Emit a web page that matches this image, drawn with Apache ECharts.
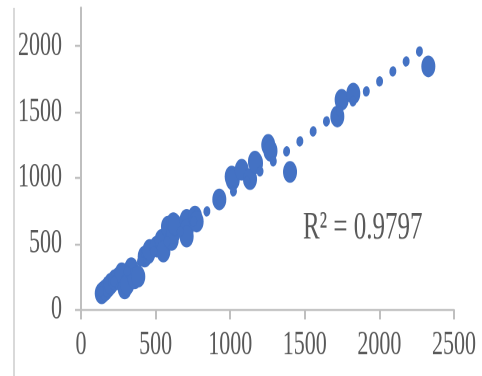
<!DOCTYPE html>
<html>
<head>
<meta charset="utf-8">
<script src="https://cdn.jsdelivr.net/npm/echarts@6/dist/echarts.min.js"></script>
<style>
	html,body{margin:0;padding:0;background:#fff;overflow:hidden;}
	#wrap{width:482px;height:376px;overflow:hidden;}
	/* the source picture is stretched vertically, so the chart is drawn flat and stretched */
	#chart{width:482px;height:242px;transform:scaleY(1.5537);transform-origin:0 0;}
</style>
</head>
<body>
<div id="wrap"><div id="chart"></div></div>
<script>
	// data
	const xValues=[139,150,165,183,200,228,250,273,293,310,337,340,360,384,
		427,451,460,507,541,552,583,608,619,619,630,708,708,708,764,775,
		927,1010,1017,1077,1133,1166,1173,1255,1270,1401,1718,1747,1825,2328]
	const yValues=[123,135,150,173,195,224,240,275,160,190,313,300,237,250,
		402,427,452,478,529,440,630,529,656,580,643,681,605,554,706,668,
		836,1010,985,1061,990,1124,1112,1250,1205,1045,1466,1593,1640,1847]
	// trend line ends
	const trendX=[130,2330]
	const trendY=[137,2013]
	const yTicks=[0,500,1000,1500,2000]
	const r2Text='R² = 0.9797'

	const labelColor='#595959'
	const axisColor='#bfbfbf'
	const dotColor='#4472C4'
	const fontFamily='"Liberation Serif","Times New Roman",serif'

	const myChart=echarts.init(document.getElementById('chart'),null,{devicePixelRatio:2})

	let points=xValues.map((x,i)=>[x,yValues[i]])
	let trend=trendX.map((x,i)=>[x,trendY[i]])
	let plain=function(val){return String(val)}

	let option={
		animation:false,
		backgroundColor:'#fff',
		grid:{left:81,right:28,top:5.15,bottom:42.8},
		xAxis:{
			type:'value',
			min:0,
			max:2500,
			interval:500,
			splitLine:{show:false},
			axisLine:{show:true,lineStyle:{color:axisColor,width:1.3}},
			axisTick:{show:true,length:6.4,lineStyle:{color:axisColor,width:2}},
			axisLabel:{margin:12,fontSize:22,fontFamily:fontFamily,color:labelColor,formatter:plain}
		},
		yAxis:{
			type:'value',
			min:0,
			max:2290,
			interval:500,
			splitLine:{show:false},
			axisLine:{show:true,lineStyle:{color:axisColor,width:2}},
			axisTick:{show:true,length:6,customValues:yTicks,lineStyle:{color:axisColor,width:1.3}},
			axisLabel:{margin:19,fontSize:22,fontFamily:fontFamily,color:labelColor,customValues:yTicks,formatter:plain}
		},
		graphic:[
			{
				type:'line',
				shape:{x1:14,y1:5,x2:14,y2:242},
				style:{stroke:'#d9d9d9',lineWidth:2}
			},
			{
				type:'text',
				x:303,
				y:147,
				style:{text:r2Text,fontSize:25,fontFamily:fontFamily,fill:labelColor,verticalAlign:'middle',textVerticalAlign:'middle'}
			}
		],
		series:[
			{
				type:'scatter',
				data:points,
				symbol:'circle',
				symbolSize:14,
				itemStyle:{color:dotColor,opacity:1},
				z:2
			},
			{
				type:'line',
				data:trend,
				symbol:'none',
				silent:true,
				lineStyle:{color:dotColor,width:6.5,type:[0.5,14.26],cap:'round'},
				z:3
			}
		]
	}
	myChart.setOption(option)
</script>
</body>
</html>
